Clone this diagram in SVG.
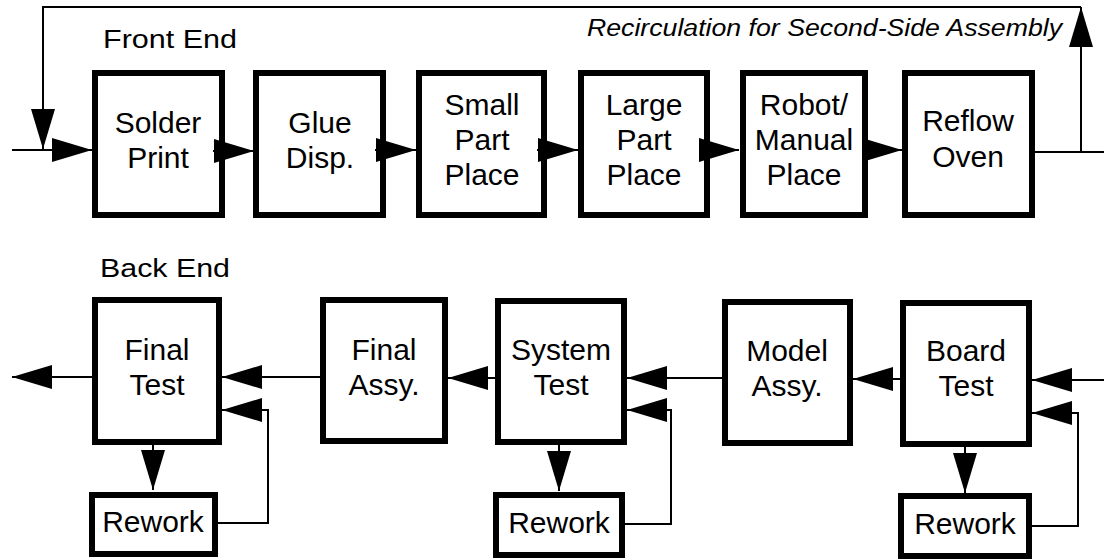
<svg xmlns="http://www.w3.org/2000/svg" width="1104" height="560" viewBox="0 0 1104 560">
  <style>
    .box { fill: #fff; stroke: #000; stroke-width: 6; }
    .lbl { font-family: "Liberation Sans", Arial, sans-serif; font-size: 30px; fill: #000; text-anchor: middle; }
    .head { font-family: "Liberation Sans", Arial, sans-serif; font-size: 26px; fill: #000; }
    .note { font-family: "Liberation Sans", Arial, sans-serif; font-size: 23.5px; font-style: italic; fill: #000; }
    .wire { fill: none; stroke: #000; stroke-width: 2; }
    .arr { marker-end: url(#head); }
  </style>
  <defs>
    <marker id="head" markerUnits="userSpaceOnUse" viewBox="0 0 40 24" markerWidth="40" markerHeight="24" refX="40" refY="12" orient="auto">
      <path d="M0,0 L40,12 L0,24 Z" fill="#000"/>
    </marker>
  </defs>
  <rect width="1104" height="560" fill="#fff"/>

  <!-- section headings -->
  <text class="head" x="103" y="48" textLength="134" lengthAdjust="spacingAndGlyphs">Front End</text>
  <text class="head" x="100" y="277" textLength="130" lengthAdjust="spacingAndGlyphs">Back End</text>
  <text class="note" x="587" y="36" textLength="475" lengthAdjust="spacingAndGlyphs">Recirculation for Second-Side Assembly</text>

  <!-- front end -->
  <g id="solder-print">
    <rect class="box" x="95" y="73" width="127" height="142"/>
    <text class="lbl" x="158" y="133">Solder</text>
    <text class="lbl" x="158" y="168">Print</text>
  </g>
  <g id="glue-disp">
    <rect class="box" x="256" y="73" width="127" height="142"/>
    <text class="lbl" x="320" y="133">Glue</text>
    <text class="lbl" x="320" y="168">Disp.</text>
  </g>
  <g id="small-part-place">
    <rect class="box" x="419" y="73" width="125" height="142"/>
    <text class="lbl" x="482" y="115">Small</text>
    <text class="lbl" x="482" y="150">Part</text>
    <text class="lbl" x="482" y="185">Place</text>
  </g>
  <g id="large-part-place">
    <rect class="box" x="581" y="73" width="126" height="142"/>
    <text class="lbl" x="644" y="115">Large</text>
    <text class="lbl" x="644" y="150">Part</text>
    <text class="lbl" x="644" y="185">Place</text>
  </g>
  <g id="robot-manual-place">
    <rect class="box" x="743" y="73" width="122" height="142"/>
    <text class="lbl" x="804" y="115">Robot/</text>
    <text class="lbl" x="804" y="150">Manual</text>
    <text class="lbl" x="804" y="185">Place</text>
  </g>
  <g id="reflow-oven">
    <rect class="box" x="905" y="73" width="127" height="142"/>
    <text class="lbl" x="968" y="131">Reflow</text>
    <text class="lbl" x="968" y="167">Oven</text>
  </g>

  <!-- back end -->
  <g id="final-test">
    <rect class="box" x="95" y="300" width="124" height="142"/>
    <text class="lbl" x="157" y="360">Final</text>
    <text class="lbl" x="157" y="395">Test</text>
  </g>
  <g id="final-assy">
    <rect class="box" x="323" y="300" width="122" height="141"/>
    <text class="lbl" x="384" y="360">Final</text>
    <text class="lbl" x="384" y="395">Assy.</text>
  </g>
  <g id="system-test">
    <rect class="box" x="498" y="301" width="126" height="141"/>
    <text class="lbl" x="561" y="360">System</text>
    <text class="lbl" x="561" y="395">Test</text>
  </g>
  <g id="model-assy">
    <rect class="box" x="725" y="302" width="125" height="141"/>
    <text class="lbl" x="787" y="361">Model</text>
    <text class="lbl" x="787" y="396">Assy.</text>
  </g>
  <g id="board-test">
    <rect class="box" x="903" y="303" width="126" height="141"/>
    <text class="lbl" x="966" y="361">Board</text>
    <text class="lbl" x="966" y="396">Test</text>
  </g>
  <g id="rework-final">
    <rect class="box" x="92" y="495" width="123" height="59"/>
    <text class="lbl" x="153" y="532">Rework</text>
  </g>
  <g id="rework-system">
    <rect class="box" x="496" y="495" width="126" height="60"/>
    <text class="lbl" x="559" y="533">Rework</text>
  </g>
  <g id="rework-board">
    <rect class="box" x="901" y="496" width="128" height="60"/>
    <text class="lbl" x="965" y="534">Rework</text>
  </g>

  <!-- connectors, drawn last so arrow bases sit over the box borders -->
  <g id="connectors">
    <path class="wire arr" d="M12,150 H92"/>
    <path class="wire arr" d="M213,151 H254"/>
    <path class="wire arr" d="M375,150 H416"/>
    <path class="wire arr" d="M537,150 H578"/>
    <path class="wire arr" d="M699,150 H739"/>
    <path class="wire arr" d="M862,150 H902"/>
    <path class="wire" d="M1035,152 H1104"/>
    <path class="wire arr" d="M1081,152 V7"/>
    <path class="wire arr" d="M1081,7 H43 V149"/>

    <path class="wire arr" d="M92,377 H12"/>
    <path class="wire arr" d="M320,377 H222"/>
    <path class="wire arr" d="M218,523 H268 V410 H222"/>
    <path class="wire arr" d="M153,445 V490"/>
    <path class="wire arr" d="M495,378 H448"/>
    <path class="wire arr" d="M722,378 H627"/>
    <path class="wire arr" d="M625,524 H671 V410 H627"/>
    <path class="wire arr" d="M559,445 V491"/>
    <path class="wire arr" d="M900,379 H853"/>
    <path class="wire arr" d="M1104,380 H1032"/>
    <path class="wire arr" d="M1032,526 H1078 V413 H1032"/>
    <path class="wire arr" d="M965,447 V493"/>
  </g>
</svg>
